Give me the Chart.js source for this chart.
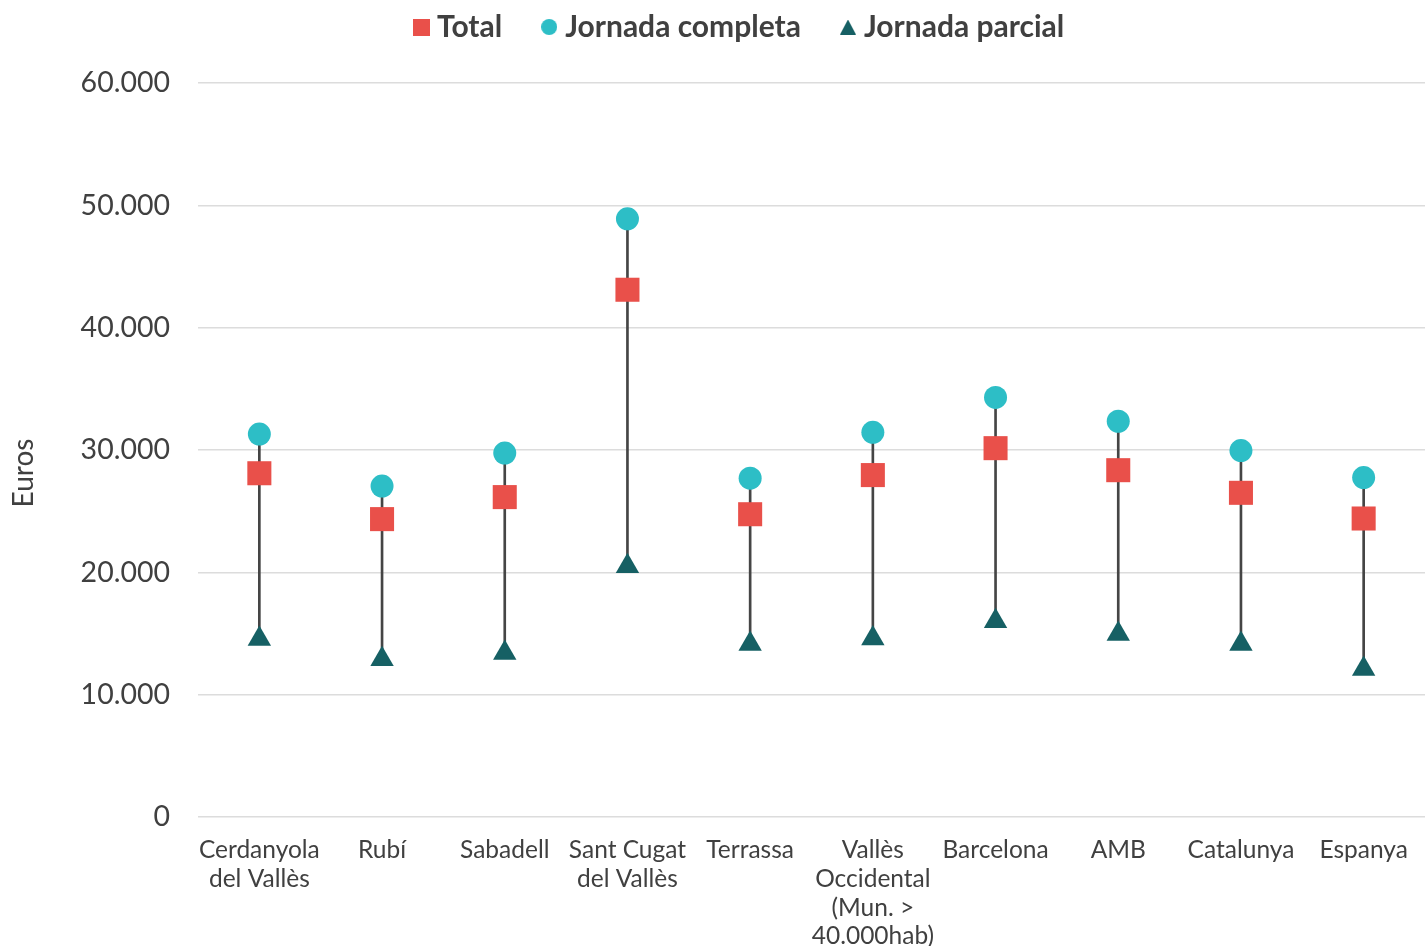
<!DOCTYPE html>
<html>
<head>
<meta charset="utf-8">
<script src="https://cdn.jsdelivr.net/npm/chart.js@4/dist/chart.umd.min.js"></script>
<style>
    html, body { margin: 0; padding: 0; background: #ffffff; overflow: hidden; }
    canvas { display: block; }
</style>
</head>
<body>
<canvas id="salaryChart" width="1425" height="946"></canvas>
<script>
// dades (euros)
const categories = [
    ['Cerdanyola', 'del Vallès'],
    'Rubí',
    'Sabadell',
    ['Sant Cugat', 'del Vallès'],
    'Terrassa',
    ['Vallès', 'Occidental', '(Mun. >', '40.000hab)'],
    'Barcelona',
    'AMB',
    'Catalunya',
    'Espanya'
];
const total = [28100, 24350, 26150, 43100, 24750, 27950, 30150, 28350, 26500, 24400];
const jornadaCompleta = [31300, 27050, 29750, 48900, 27700, 31450, 34300, 32350, 29950, 27750];
const jornadaParcial = [14550, 12900, 13400, 20500, 14150, 14600, 16000, 14950, 14150, 12100];
const yTicks = [0, 10000, 20000, 30000, 40000, 50000, 60000];

const TEXT = '#404040';
const RED = '#E9504A';
const TEAL = '#2DBEC6';
const DARK = '#166064';

// rang entre parcial i completa
const ranges = jornadaParcial.map((v, i) => [v, jornadaCompleta[i]]);

function fmtThousands(v) {
    return String(v).replace(/\B(?=(\d{3})+(?!\d))/g, '.');
}

// petits marcadors per la llegenda
function makeMarker(shape, color, w, h) {
    const c = document.createElement('canvas');
    c.width = w; c.height = h;
    const g = c.getContext('2d');
    g.fillStyle = color;
    if (shape === 'rect') {
        g.fillRect(0, 0, w, h);
    } else if (shape === 'circle') {
        g.beginPath();
        g.arc(w / 2, h / 2, w / 2, 0, Math.PI * 2);
        g.fill();
    } else {
        g.beginPath();
        g.moveTo(w / 2, 0);
        g.lineTo(w, h);
        g.lineTo(0, h);
        g.closePath();
        g.fill();
    }
    return c;
}
const legendMarkers = [
    makeMarker('rect', RED, 17, 17),
    makeMarker('circle', TEAL, 16, 16),
    makeMarker('triangle', DARK, 16, 15)
];

const LEG_PAD = 46;
const LEG_FONT = 30;

const legendShift = {
    id: 'legendShift',
    afterLayout(chart) {
        const lg = chart.legend;
        if (lg) {
            lg.top = 27 - LEG_PAD - LEG_FONT / 2;
            lg.bottom = lg.top + lg.height;
            // primer element a x = 420
            const cur = (lg.left + LEG_PAD + lg.right - lg.lineWidths[0]) / 2;
            const dx = 420 - cur;
            lg.left += dx;
            lg.right += dx;
        }
        // títol de l'eix Y centrat a la pàgina, no a l'àrea
        const y = chart.scales.y;
        if (y && !y._titlePatched) {
            const orig = y.drawTitle;
            y.drawTitle = function () {
                const off = 473 - (this.top + this.bottom) / 2;
                this.top += off; this.bottom += off;
                orig.call(this);
                this.top -= off; this.bottom -= off;
            };
            y._titlePatched = true;
        }
    }
};

const ctx = document.getElementById('salaryChart').getContext('2d');
new Chart(ctx, {
    type: 'line',
    data: {
        labels: categories,
        datasets: [
            {
                label: 'Total',
                data: total,
                showLine: false,
                pointStyle: 'rect',
                pointRadius: 17,
                pointHoverRadius: 17,
                pointBorderWidth: 0,
                backgroundColor: RED,
                borderColor: RED,
                order: 1
            },
            {
                label: 'Jornada completa',
                data: jornadaCompleta,
                showLine: false,
                pointStyle: 'circle',
                pointRadius: 11.5,
                pointHoverRadius: 11.5,
                pointBorderWidth: 0,
                backgroundColor: TEAL,
                borderColor: TEAL,
                order: 2
            },
            {
                label: 'Jornada parcial',
                data: jornadaParcial,
                showLine: false,
                pointStyle: 'triangle',
                pointRadius: 13.5,
                pointHoverRadius: 13.5,
                pointBorderWidth: 0,
                backgroundColor: DARK,
                borderColor: DARK,
                order: 3
            },
            {
                type: 'bar',
                label: 'rang',
                data: ranges,
                backgroundColor: '#454545',
                barThickness: 2,
                order: 10
            }
        ]
    },
    options: {
        responsive: false,
        animation: false,
        layout: {
            autoPadding: false,
            // l'àrea del gràfic continua una mica més enllà de la vora dreta
            padding: { top: 83 - (LEG_FONT + LEG_PAD + 10), left: 0, right: -7, bottom: 0 }
        },
        scales: {
            x: {
                offset: true,
                grid: { display: false, drawTicks: false },
                border: { display: false },
                afterFit: s => { s.height = 129; s.paddingLeft = 0; s.paddingRight = 0; },
                ticks: {
                    color: TEXT,
                    padding: 19,
                    maxRotation: 0,
                    autoSkip: false,
                    font: { family: 'Lato', size: 24.5, lineHeight: 1.17 }
                }
            },
            y: {
                min: 0,
                max: 60000,
                afterFit: s => { s.width = 198; },
                afterBuildTicks: s => { s.ticks = yTicks.map(v => ({ value: v })); },
                grid: { color: '#dcdcdc', lineWidth: 1.5, drawTicks: false },
                border: { display: false },
                ticks: {
                    color: TEXT,
                    padding: 28,
                    font: { family: 'Lato', size: 28.5 },
                    callback: v => fmtThousands(v)
                },
                title: {
                    display: true,
                    text: 'Euros',
                    color: TEXT,
                    padding: { top: 7, bottom: 0 },
                    font: { family: 'Lato', size: 28 }
                }
            }
        },
        plugins: {
            legend: {
                position: 'top',
                labels: {
                    usePointStyle: true,
                    pointStyleWidth: 2,
                    padding: LEG_PAD,
                    color: TEXT,
                    font: { family: 'Lato', size: LEG_FONT, weight: 'bold' },
                    generateLabels: chart => chart.data.datasets.slice(0, 3).map((ds, i) => ({
                        text: ds.label,
                        fillStyle: ds.backgroundColor,
                        strokeStyle: ds.backgroundColor,
                        lineWidth: 0,
                        pointStyle: legendMarkers[i],
                        fontColor: TEXT,
                        hidden: false,
                        datasetIndex: i
                    }))
                }
            },
            tooltip: { enabled: false }
        }
    },
    plugins: [legendShift]
});
</script>
</body>
</html>
